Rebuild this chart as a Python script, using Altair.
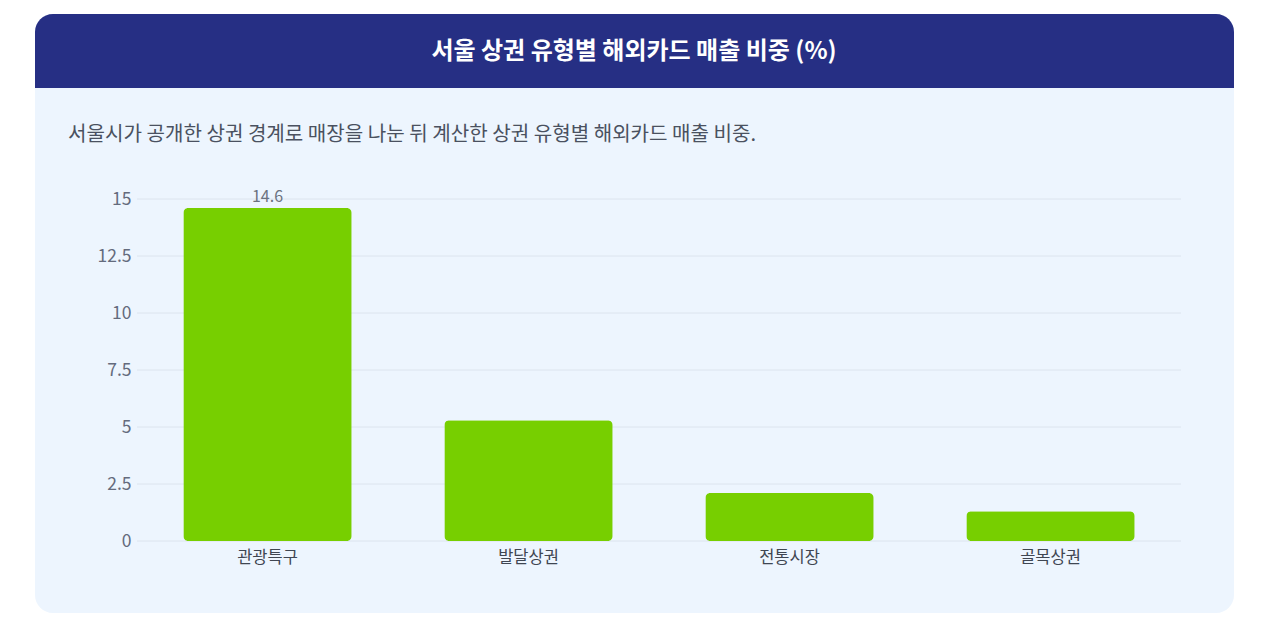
import altair as alt
import pandas as pd

categories = ["관광특구", "발달상권", "전통시장", "골목상권"]
values = [14.6, 5.3, 2.1, 1.3]
y_ticks = [0, 2.5, 5, 7.5, 10, 12.5, 15]
title_text = "서울 상권 유형별 해외카드 매출 비중 (%)"
subtitle_text = "서울시가 공개한 상권 경계로 매장을 나눈 뒤 계산한 상권 유형별 해외카드 매출 비중."

FONT = "Noto Sans CJK KR"
W, H = 1044, 342
OX, OY = 137, 199  # plot origin in page pixels

df = pd.DataFrame({"category": categories, "value": values})
grid_df = pd.DataFrame({"tick": y_ticks})
one = pd.DataFrame({"title": [title_text], "subtitle": [subtitle_text]})

card = alt.Chart(one).mark_rect(color="#EDF5FE", cornerRadius=18).encode(
    x=alt.value(35 - OX), x2=alt.value(1234 - OX),
    y=alt.value(14 - OY), y2=alt.value(613 - OY))

header = alt.Chart(one).mark_rect(color="#262F84", cornerRadiusTopLeft=18,
                                  cornerRadiusTopRight=18).encode(
    x=alt.value(35 - OX), x2=alt.value(1234 - OX),
    y=alt.value(14 - OY), y2=alt.value(88 - OY))

title = alt.Chart(one).mark_text(font=FONT, fontSize=24, fontWeight="bold",
                                 color="white", align="center", baseline="middle").encode(
    x=alt.value(634 - OX), y=alt.value(52 - OY), text="title:N")

subtitle = alt.Chart(one).mark_text(font=FONT, fontSize=20.1, color="#4A5160",
                                    align="left", baseline="middle").encode(
    x=alt.value(68 - OX), y=alt.value(135 - OY), text="subtitle:N")

yscale = alt.Scale(domain=[0, 15])
yaxis = alt.Axis(values=y_ticks, format=".1~f", grid=False, domain=False, ticks=False,
                 tickSize=0, labelPadding=6, labelFont=FONT, labelFontSize=17.5, zindex=1,
                 labelColor="#646B7D", title=None)

grid = alt.Chart(grid_df).mark_rule(color="#DCE4EE", strokeWidth=1).encode(
    y=alt.Y("tick:Q", scale=yscale, axis=yaxis))

xenc = alt.X("category:N", sort=categories,
             scale=alt.Scale(paddingInner=0.355, paddingOuter=0.1775),
             axis=alt.Axis(domain=False, ticks=False, tickSize=0, labelAngle=0,
                           labelPadding=8, labelFont=FONT, labelFontSize=16.5, zindex=1,
                           labelColor="#3F4652", title=None))

bars = alt.Chart(df).mark_bar(color="#77CF00", cornerRadius=5).encode(
    x=xenc, y=alt.Y("value:Q", scale=yscale, axis=yaxis))

label = alt.Chart(df).mark_text(font=FONT, fontSize=16, color="#6B7280",
                                baseline="bottom", dy=-3).transform_filter(
    alt.datum.category == categories[0]).encode(
    x=xenc, y=alt.Y("value:Q", scale=yscale, axis=yaxis),
    text=alt.Text("value:Q", format=".1f"))

chart = alt.layer(card, header, title, subtitle, grid, bars, label).properties(
    width=W, height=H,
    autosize=alt.AutoSizeParams(type="none"),
    padding={"left": OX - 8, "top": OY - 8, "right": 64, "bottom": 80},
    background="white",
).configure_view(stroke=None).configure_axis(zindex=1)

chart.save("out.html", embed_options={"renderer": "svg", "actions": False})
